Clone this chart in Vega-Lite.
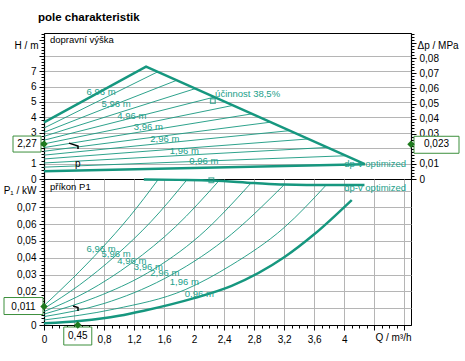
{
  "$schema": "https://vega.github.io/schema/vega-lite/v6.json",
  "padding": {"left": 2, "top": 12, "right": 4, "bottom": 4},
  "title": {"text": "pole charakteristik", "anchor": "start", "frame": "group", "fontSize": 11.5, "fontWeight": "bold", "font": "Liberation Sans", "color": "black", "offset": 5, "dx": -6},
  "spacing": 0,
  "bounds": "flush",
  "config": {
    "font": "Liberation Sans",
    "view": {"stroke": "black", "strokeWidth": 1},
    "axis": {"labelFont": "Liberation Sans", "labelFontSize": 10, "labelColor": "black", "tickColor": "black", "domainColor": "black", "gridColor": "#b5b5b5", "gridWidth": 1, "labelOverlap": false, "labelFlush": false, "labelBound": false}
  },
  "vconcat": [
    {
      "width": 367,
      "height": 146,
      "layer": [
        {
          "encoding": {
            "x": {"field": "Q", "type": "quantitative", "scale": {"domain": [0, 4.89], "nice": false, "zero": false},
              "axis": {"values": [0.4, 0.8, 1.2, 1.6, 2, 2.4, 2.8, 3.2, 3.6, 4, 4.4, 4.8], "labels": false, "ticks": false, "domain": false, "grid": true, "title": null}},
            "y": {"field": "H", "type": "quantitative", "scale": {"domain": [0, 9.48], "nice": false},
              "axis": {
                "title": null, "grid": true, "domainWidth": 1.2, "labelPadding": 3,
                "values": [0,0.2,0.4,0.6,0.8,1,1.2,1.4,1.6,1.8,2,2.2,2.4,2.6,2.8,3,3.2,3.4,3.6,3.8,4,4.2,4.4,4.6,4.8,5,5.2,5.4,5.6,5.8,6,6.2,6.4,6.6,6.8,7,7.2,7.4,7.6,7.8,8,8.2,8.4,8.6,8.8,9,9.2,9.4,8.7],
                "labelExpr": "datum.value == 8.7 ? 'H / m' : ((datum.value % 1 == 0 && datum.value <= 7 && datum.value != 2) ? replace(format(datum.value, '~g'), '.', ',') : '')",
                "tickSize": {"condition": {"test": "datum.value % 1 == 0", "value": 5}, "value": 3},
                "tickOpacity": {"condition": {"test": "datum.value == 8.7", "value": 0}, "value": 1},
                "gridOpacity": {"condition": {"test": "datum.value % 1 == 0 && datum.value > 0 && datum.value <= 8", "value": 1}, "value": 0}
              }}
          },
          "layer": [
            {
              "data": {"values": [
                {"id": "t1", "Q": 0, "H": 3.31}, {"id": "t1", "Q": 1.516, "H": 6.96},
                {"id": "t2", "Q": 0, "H": 3.03}, {"id": "t2", "Q": 1.769, "H": 6.41},
                {"id": "t3", "Q": 0, "H": 2.77}, {"id": "t3", "Q": 2.017, "H": 5.87},
                {"id": "t4", "Q": 0, "H": 2.52}, {"id": "t4", "Q": 2.27, "H": 5.32},
                {"id": "t5", "Q": 0, "H": 2.28}, {"id": "t5", "Q": 2.519, "H": 4.78},
                {"id": "t6", "Q": 0, "H": 2.04}, {"id": "t6", "Q": 2.771, "H": 4.23},
                {"id": "t7", "Q": 0, "H": 1.8}, {"id": "t7", "Q": 3.02, "H": 3.69},
                {"id": "t8", "Q": 0, "H": 1.55}, {"id": "t8", "Q": 3.273, "H": 3.14},
                {"id": "t9", "Q": 0, "H": 1.3}, {"id": "t9", "Q": 3.521, "H": 2.6},
                {"id": "t10", "Q": 0, "H": 1.04}, {"id": "t10", "Q": 3.774, "H": 2.05},
                {"id": "t11", "Q": 0, "H": 0.77}, {"id": "t11", "Q": 4.022, "H": 1.51}
              ]},
              "mark": {"type": "line", "color": "#16977f", "strokeWidth": 0.9},
              "encoding": {"detail": {"field": "id"}}
            },
            {
              "data": {"values": [
                {"id": "max", "Q": 0, "H": 3.68}, {"id": "max", "Q": 1.36, "H": 7.3}, {"id": "max", "Q": 4.275, "H": 0.96},
                {"id": "min", "Q": 0, "H": 0.5}, {"id": "min", "Q": 4.275, "H": 0.96}
              ]},
              "mark": {"type": "line", "color": "#16977f", "strokeWidth": 2.4},
              "encoding": {"detail": {"field": "id"}}
            },
            {
              "data": {"values": [{"H": 2.27}]},
              "mark": {"type": "rule", "color": "#2e8b2e", "strokeWidth": 1.3},
              "encoding": {"x": {"datum": 0}, "x2": {"datum": 4.89}}
            },
            {
              "data": {"values": [{"Q": 0.45}]},
              "mark": {"type": "rule", "color": "#3a9a3a", "strokeWidth": 1.2},
              "encoding": {"y": {"datum": 0}, "y2": {"datum": 9.48}}
            },
            {
              "data": {"values": [{"o": 1, "Q": 0.333, "H": 2.33}, {"o": 2, "Q": 0.453, "H": 2.14}, {"o": 3, "Q": 0.453, "H": 1.95}]},
              "mark": {"type": "line", "color": "black", "strokeWidth": 1.5},
              "encoding": {"order": {"field": "o"}}
            },
            {
              "data": {"values": [{"Q": 0.45, "H": 0.97, "t": "p"}]},
              "mark": {"type": "text", "fontSize": 10, "color": "black"},
              "encoding": {"text": {"field": "t"}}
            },
            {
              "data": {"values": [{"Q": 2.25, "H": 5.06}]},
              "mark": {"type": "point", "shape": "square", "size": 22, "filled": false, "color": "#16977f", "strokeWidth": 1.3}
            },
            {
              "data": {"values": [
                {"Q": 0.76, "H": 5.64, "t": "6,96 m"}, {"Q": 0.96, "H": 4.86, "t": "5,96 m"},
                {"Q": 1.17, "H": 4.08, "t": "4,96 m"}, {"Q": 1.39, "H": 3.37, "t": "3,96 m"},
                {"Q": 1.61, "H": 2.59, "t": "2,96 m"}, {"Q": 1.87, "H": 1.81, "t": "1,96 m"},
                {"Q": 2.13, "H": 1.17, "t": "0,96 m"}
              ]},
              "mark": {"type": "text", "fontSize": 9.5, "color": "#22a08a"},
              "encoding": {"text": {"field": "t"}}
            },
            {
              "data": {"values": [{"Q": 2.28, "H": 5.5, "t": "účinnost  38,5%"}, {"Q": 4.0, "H": 0.97, "t": "dp-v optimized"}]},
              "mark": {"type": "text", "fontSize": 9.5, "color": "#22a08a", "align": "left"},
              "encoding": {"text": {"field": "t"}}
            },
            {
              "data": {"values": [{"Q": 0.08, "H": 9.0, "t": "dopravní výška"}]},
              "mark": {"type": "text", "fontSize": 9.5, "color": "black", "align": "left"},
              "encoding": {"text": {"field": "t"}}
            },
            {
              "data": {"values": [{"Q": 0, "H": 2.27, "t": "2,27"}]},
              "layer": [
                {"mark": {"type": "rect", "fill": "white", "stroke": "#3c8f3c", "strokeWidth": 1, "xOffset": -31, "x2Offset": -3, "yOffset": -8, "y2Offset": 8},
                 "encoding": {"x2": {"field": "Q"}, "y2": {"field": "H"}}},
                {"mark": {"type": "text", "dx": -17, "fontSize": 10, "color": "black"}, "encoding": {"text": {"field": "t"}}},
                {"mark": {"type": "point", "shape": "diamond", "filled": true, "size": 55, "color": "#1e7a1e", "opacity": 1}}
              ]
            }
          ]
        },
        {
          "encoding": {
            "x": {"field": "Q", "type": "quantitative", "scale": {"domain": [0, 4.89], "nice": false, "zero": false}, "axis": null},
            "y": {"field": "dp", "type": "quantitative", "scale": {"domain": [0, 0.0967], "nice": false},
              "axis": {
                "orient": "right", "title": null, "grid": false, "domainWidth": 1.2, "labelPadding": 3,
                "values": [0,0.002,0.004,0.006,0.008,0.01,0.012,0.014,0.016,0.018,0.02,0.022,0.024,0.026,0.028,0.03,0.032,0.034,0.036,0.038,0.04,0.042,0.044,0.046,0.048,0.05,0.052,0.054,0.056,0.058,0.06,0.062,0.064,0.066,0.068,0.07,0.072,0.074,0.076,0.078,0.08,0.082,0.084,0.086,0.088,0.09,0.092,0.094,0.096,0.0887],
                "labelExpr": "datum.value == 0.0887 ? 'Δp / MPa' : ((abs(datum.value * 100 - round(datum.value * 100)) < 0.001 && datum.value < 0.0805 && datum.value != 0.02) ? replace(format(datum.value, '~g'), '.', ',') : '')",
                "tickSize": {"condition": {"test": "abs(datum.value * 100 - round(datum.value * 100)) < 0.001", "value": 5}, "value": 3},
                "tickOpacity": {"condition": {"test": "datum.value == 0.0887", "value": 0}, "value": 1}
              }}
          },
          "layer": [
            {
              "data": {"values": [{"Q": 4.89, "dp": 0.023, "t": "0,023"}]},
              "layer": [
                {"mark": {"type": "rect", "fill": "white", "stroke": "#3c8f3c", "strokeWidth": 1, "xOffset": 3, "x2Offset": 48, "yOffset": -8, "y2Offset": 9},
                 "encoding": {"x2": {"field": "Q"}, "y2": {"field": "dp"}}},
                {"mark": {"type": "text", "dx": 25.5, "fontSize": 10, "color": "black"}, "encoding": {"text": {"field": "t"}}},
                {"mark": {"type": "point", "shape": "diamond", "filled": true, "size": 55, "color": "#1e7a1e", "opacity": 1}}
              ]
            }
          ]
        }
      ],
      "resolve": {"scale": {"y": "independent"}, "axis": {"y": "independent"}}
    },
    {
      "width": 367,
      "height": 146,
      "encoding": {
        "x": {"field": "Q", "type": "quantitative", "scale": {"domain": [0, 4.89], "nice": false, "zero": false},
          "axis": {
            "title": null, "grid": true, "domainWidth": 1.2, "labelPadding": 4,
            "values": [0,0.1,0.2,0.3,0.4,0.5,0.6,0.7,0.8,0.9,1,1.1,1.2,1.3,1.4,1.5,1.6,1.7,1.8,1.9,2,2.1,2.2,2.3,2.4,2.5,2.6,2.7,2.8,2.9,3,3.1,3.2,3.3,3.4,3.5,3.6,3.7,3.8,3.9,4,4.1,4.2,4.3,4.4,4.5,4.6,4.7,4.8,4.65],
            "labelExpr": "datum.value == 4.65 ? 'Q / m³/h' : ((abs(datum.value * 2.5 - round(datum.value * 2.5)) < 0.001 && datum.value < 4.05 && datum.value != 0.4) ? replace(format(datum.value, '~g'), '.', ',') : '')",
            "tickSize": {"condition": {"test": "abs(datum.value * 2.5 - round(datum.value * 2.5)) < 0.001", "value": 5}, "value": 3},
            "tickOpacity": {"condition": {"test": "datum.value == 4.65", "value": 0}, "value": 1},
            "gridOpacity": {"condition": {"test": "abs(datum.value * 2.5 - round(datum.value * 2.5)) < 0.001 && datum.value > 0", "value": 1}, "value": 0}
          }},
        "y": {"field": "P", "type": "quantitative", "scale": {"domain": [0, 0.0869], "nice": false},
          "axis": {
            "title": null, "grid": true, "domainWidth": 1.2, "labelPadding": 3,
            "values": [0,0.002,0.004,0.006,0.008,0.01,0.012,0.014,0.016,0.018,0.02,0.022,0.024,0.026,0.028,0.03,0.032,0.034,0.036,0.038,0.04,0.042,0.044,0.046,0.048,0.05,0.052,0.054,0.056,0.058,0.06,0.062,0.064,0.066,0.068,0.07,0.072,0.074,0.076,0.078,0.08,0.082,0.084,0.086],
            "labelExpr": "datum.value == 0.08 ? 'P₁ / kW' : ((abs(datum.value * 100 - round(datum.value * 100)) < 0.001 && datum.value < 0.0705 && datum.value != 0.01) ? replace(format(datum.value, '~g'), '.', ',') : '')",
            "tickSize": {"condition": {"test": "abs(datum.value * 100 - round(datum.value * 100)) < 0.001", "value": 5}, "value": 3},
            "gridOpacity": {"condition": {"test": "abs(datum.value * 100 - round(datum.value * 100)) < 0.001 && datum.value > 0", "value": 1}, "value": 0}
          }}
      },
      "layer": [
        {
          "data": {"values": [
            {"id": "6.96", "Q": 0, "P": 0.0115}, {"id": "6.96", "Q": 0.38, "P": 0.0277}, {"id": "6.96", "Q": 0.76, "P": 0.0452}, {"id": "6.96", "Q": 1.14, "P": 0.0645}, {"id": "6.96", "Q": 1.52, "P": 0.0865},
            {"id": "5.96", "Q": 0, "P": 0.0098}, {"id": "5.96", "Q": 0.475, "P": 0.0239}, {"id": "5.96", "Q": 0.95, "P": 0.0411}, {"id": "5.96", "Q": 1.425, "P": 0.0615}, {"id": "5.96", "Q": 1.9, "P": 0.0862},
            {"id": "4.96", "Q": 0, "P": 0.008}, {"id": "4.96", "Q": 0.58, "P": 0.02}, {"id": "4.96", "Q": 1.165, "P": 0.0368}, {"id": "4.96", "Q": 1.75, "P": 0.0584}, {"id": "4.96", "Q": 2.33, "P": 0.0858},
            {"id": "3.96", "Q": 0, "P": 0.0065}, {"id": "3.96", "Q": 0.69, "P": 0.0165}, {"id": "3.96", "Q": 1.38, "P": 0.031}, {"id": "3.96", "Q": 2.07, "P": 0.053}, {"id": "3.96", "Q": 2.76, "P": 0.0846},
            {"id": "2.96", "Q": 0, "P": 0.005}, {"id": "2.96", "Q": 0.8, "P": 0.0128}, {"id": "2.96", "Q": 1.6, "P": 0.0275}, {"id": "2.96", "Q": 2.4, "P": 0.0505}, {"id": "2.96", "Q": 3.2, "P": 0.0835},
            {"id": "1.96", "Q": 0, "P": 0.003}, {"id": "1.96", "Q": 0.94, "P": 0.0095}, {"id": "1.96", "Q": 1.88, "P": 0.021}, {"id": "1.96", "Q": 2.49, "P": 0.0355}, {"id": "1.96", "Q": 3.2, "P": 0.058}, {"id": "1.96", "Q": 3.76, "P": 0.0833}
          ]},
          "mark": {"type": "line", "color": "#16977f", "strokeWidth": 0.9, "interpolate": "monotone"},
          "encoding": {"detail": {"field": "id"}}
        },
        {
          "data": {"values": [
            {"id": "0.96", "Q": 0, "P": 0.001}, {"id": "0.96", "Q": 0.5, "P": 0.0025}, {"id": "0.96", "Q": 1.0, "P": 0.0055}, {"id": "0.96", "Q": 1.33, "P": 0.0085}, {"id": "0.96", "Q": 2.0, "P": 0.016}, {"id": "0.96", "Q": 2.5, "P": 0.0233}, {"id": "0.96", "Q": 3.2, "P": 0.0403}, {"id": "0.96", "Q": 3.6, "P": 0.054}, {"id": "0.96", "Q": 4.1, "P": 0.0744},
            {"id": "max", "Q": 1.33, "P": 0.0866}, {"id": "max", "Q": 1.8, "P": 0.0864}, {"id": "max", "Q": 2.25, "P": 0.086}, {"id": "max", "Q": 2.8, "P": 0.0845}, {"id": "max", "Q": 3.2, "P": 0.0836}, {"id": "max", "Q": 3.8, "P": 0.0833}, {"id": "max", "Q": 4.27, "P": 0.0833}
          ]},
          "mark": {"type": "line", "color": "#16977f", "strokeWidth": 2.4, "interpolate": "monotone"},
          "encoding": {"detail": {"field": "id"}}
        },
        {
          "data": {"values": [{"P": 0.011}]},
          "mark": {"type": "rule", "color": "#8fc68f", "strokeWidth": 3},
          "encoding": {"x": {"datum": 0}, "x2": {"datum": 4.89}}
        },
        {
          "data": {"values": [{"Q": 0.45}]},
          "mark": {"type": "rule", "color": "#3a9a3a", "strokeWidth": 1.2},
          "encoding": {"y": {"datum": 0}, "y2": {"datum": 0.0869}}
        },
        {
          "data": {"values": [{"o": 1, "Q": 0.387, "P": 0.0113}, {"o": 2, "Q": 0.453, "P": 0.0104}, {"o": 3, "Q": 0.453, "P": 0.0083}]},
          "mark": {"type": "line", "color": "black", "strokeWidth": 1.5},
          "encoding": {"order": {"field": "o"}}
        },
        {
          "data": {"values": [{"Q": 2.23, "P": 0.0862}]},
          "mark": {"type": "point", "shape": "square", "size": 22, "filled": false, "color": "#16977f", "strokeWidth": 1.3}
        },
        {
          "data": {"values": [
            {"Q": 0.76, "P": 0.0452, "t": "6,96 m"}, {"Q": 0.96, "P": 0.0423, "t": "5,96 m"},
            {"Q": 1.17, "P": 0.0381, "t": "4,96 m"}, {"Q": 1.39, "P": 0.0345, "t": "3,96 m"},
            {"Q": 1.61, "P": 0.031, "t": "2,96 m"}, {"Q": 1.87, "P": 0.0256, "t": "1,96 m"},
            {"Q": 2.07, "P": 0.0185, "t": "0,96 m"}
          ]},
          "mark": {"type": "text", "fontSize": 9.5, "color": "#22a08a"},
          "encoding": {"text": {"field": "t"}}
        },
        {
          "data": {"values": [{"Q": 4.0, "P": 0.0815, "t": "dp-v optimized"}]},
          "mark": {"type": "text", "fontSize": 9.5, "color": "#22a08a", "align": "left"},
          "encoding": {"text": {"field": "t"}}
        },
        {
          "data": {"values": [{"Q": 0.08, "P": 0.0821, "t": "příkon P1"}]},
          "mark": {"type": "text", "fontSize": 9.5, "color": "black", "align": "left"},
          "encoding": {"text": {"field": "t"}}
        },
        {
          "data": {"values": [{"Q": 0, "P": 0.011, "t": "0,011"}]},
          "layer": [
            {"mark": {"type": "rect", "fill": "white", "stroke": "#3c8f3c", "strokeWidth": 1, "xOffset": -40, "x2Offset": -1, "yOffset": -9, "y2Offset": 8},
             "encoding": {"x2": {"field": "Q"}, "y2": {"field": "P"}}},
            {"mark": {"type": "text", "dx": -20.5, "fontSize": 10, "color": "black"}, "encoding": {"text": {"field": "t"}}},
            {"mark": {"type": "point", "shape": "diamond", "filled": true, "size": 55, "color": "#1e7a1e", "opacity": 1}}
          ]
        },
        {
          "data": {"values": [{"Q": 0.45, "P": 0, "t": "0,45"}]},
          "layer": [
            {"mark": {"type": "rect", "fill": "white", "stroke": "#3c8f3c", "strokeWidth": 1, "xOffset": -14, "x2Offset": 14, "yOffset": 2, "y2Offset": 20},
             "encoding": {"x2": {"field": "Q"}, "y2": {"field": "P"}}},
            {"mark": {"type": "text", "dy": 11, "fontSize": 10, "color": "black"}, "encoding": {"text": {"field": "t"}}},
            {"mark": {"type": "point", "shape": "diamond", "filled": true, "size": 55, "color": "#1e7a1e", "opacity": 1}}
          ]
        }
      ]
    }
  ]
}
